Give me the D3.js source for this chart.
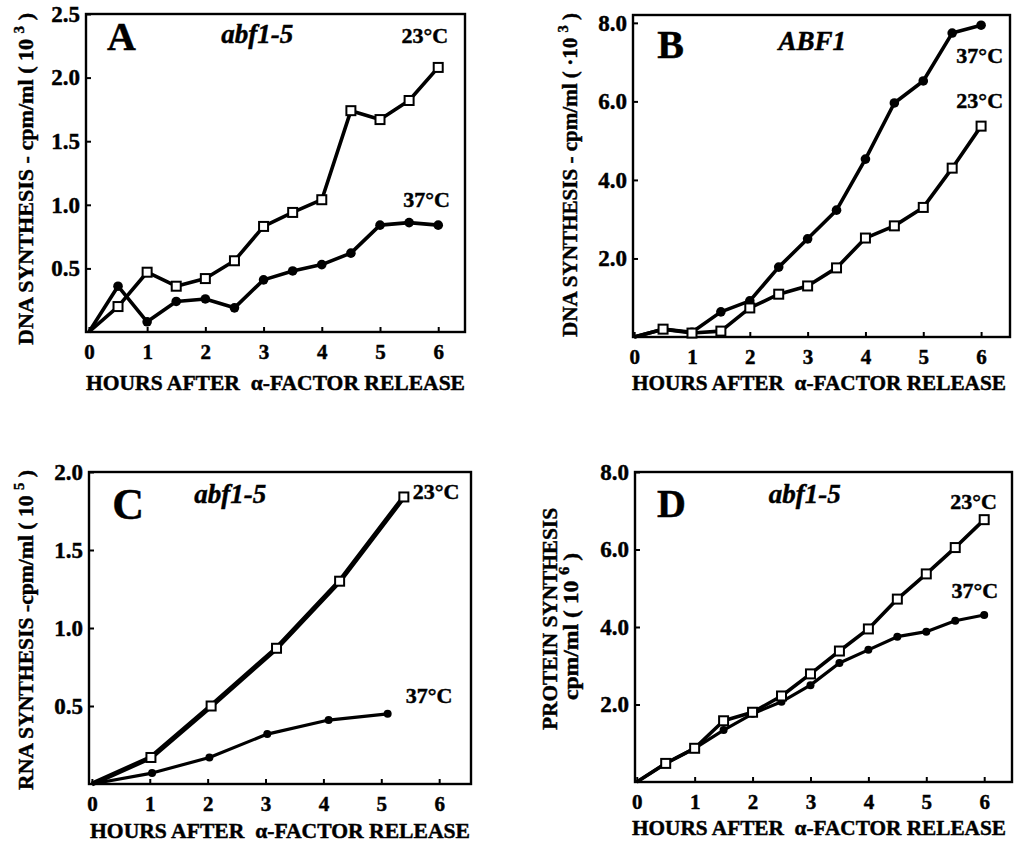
<!DOCTYPE html>
<html lang="en">
<head>
	<meta charset="utf-8">
	<title>DNA, RNA and protein synthesis after alpha-factor release</title>
	<script src="https://d3js.org/d3.v7.min.js"></script>
	<style>
		body { margin: 0; background: #fff; }
		svg text { font-family: "Liberation Serif", "Times New Roman", serif; font-weight: bold; fill: #000; stroke: #000; stroke-width: 0.45px; }
		.tick line { stroke: #000; stroke-width: 2; }
		.domain { display: none; }
	</style>
</head>
<body>
<script>
	// sampling times (hours after alpha-factor release)
	var hours = [0, 0.5, 1, 1.5, 2, 2.5, 3, 3.5, 4, 4.5, 5, 5.5, 6];
	var xTicks = [0, 1, 2, 3, 4, 5, 6];

	// A: DNA synthesis, abf1-5 (x 10^3 cpm/ml)
	var dnaMutant23 = [0, 0.2, 0.47, 0.36, 0.42, 0.56, 0.83, 0.94, 1.04, 1.74, 1.67, 1.82, 2.08];
	var dnaMutant37 = [0, 0.36, 0.08, 0.24, 0.26, 0.19, 0.41, 0.48, 0.53, 0.62, 0.84, 0.86, 0.84];

	// B: DNA synthesis, ABF1 (x 10^3 cpm/ml)
	var dnaWild23 = [0, 0.2, 0.1, 0.15, 0.74, 1.09, 1.3, 1.76, 2.52, 2.83, 3.3, 4.3, 5.37];
	var dnaWild37 = [0, 0.2, 0.12, 0.64, 0.92, 1.78, 2.5, 3.23, 4.53, 5.96, 6.52, 7.74, 7.94];

	// C: RNA synthesis, abf1-5 (x 10^5 cpm/ml)
	var rnaHours23 = [0, 1.02, 2.06, 3.19, 4.28, 5.39];
	var rna23 = [0, 0.17, 0.5, 0.87, 1.3, 1.84];
	var rnaHours37 = [0, 1.04, 2.03, 3.03, 4.09, 5.11];
	var rna37 = [0, 0.07, 0.17, 0.32, 0.41, 0.45];

	// D: protein synthesis, abf1-5 (x 10^6 cpm/ml)
	var prot23 = [0, 0.48, 0.87, 1.58, 1.8, 2.22, 2.79, 3.38, 3.95, 4.72, 5.37, 6.05, 6.77];
	var prot37 = [0, 0.48, 0.87, 1.34, 1.76, 2.07, 2.5, 3.07, 3.41, 3.75, 3.88, 4.16, 4.31];

	var yTicksA = [0.5, 1.0, 1.5, 2.0, 2.5];
	var yTicksB = [2.0, 4.0, 6.0, 8.0];
	var yTicksC = [0.5, 1.0, 1.5, 2.0];
	var yTicksD = [2.0, 4.0, 6.0, 8.0];

	var xTitle = "HOURS AFTER  \u03b1-FACTOR RELEASE";

	function zip(xs, ys) {
		return xs.map(function(x, i) { return [x, ys[i]]; });
	}

	var svg = d3.select("body").append("svg")
		.attr("width", 1016)
		.attr("height", 843);

	var panels = [
		{
			frame: { left: 86, right: 465, top: 14, bottom: 332 },
			xDomain: [-0.05, 6.46], yDomain: [0, 2.5], yTicks: yTicksA,
			series: [
				{ pts: zip(hours, dnaMutant23), kind: "square", width: 3.6 },
				{ pts: zip(hours, dnaMutant37), kind: "dot", width: 3.6, r: 4.8 }
			],
			labels: [
				{ text: "A", x: 0.31, y: 2.22, size: 40, anchor: "start" },
				{ text: "abf1-5", x: 2.89, y: 2.27, size: 27, anchor: "middle", italic: true },
				{ text: "23\u00b0C", x: 6.17, y: 2.27, size: 22, anchor: "end" },
				{ text: "37\u00b0C", x: 6.2, y: 0.98, size: 22, anchor: "end" }
			],
			yTitle: [{ parts: ["DNA SYNTHESIS - cpm/ml ( 10 ", "3", " )"], x: 33, y0: 345, y1: 13 }],
			xTitle: { x0: 86, x1: 465, y: 390 }
		},
		{
			frame: { left: 633, right: 1010, top: 15, bottom: 337 },
			xDomain: [-0.02, 6.5], yDomain: [0, 8.2], yTicks: yTicksB,
			series: [
				{ pts: zip(hours, dnaWild23), kind: "square", width: 3.6 },
				{ pts: zip(hours, dnaWild37), kind: "dot", width: 3.6, r: 4.8 }
			],
			labels: [
				{ text: "B", x: 0.4, y: 7.1, size: 40, anchor: "start" },
				{ text: "ABF1", x: 3.08, y: 7.31, size: 27, anchor: "middle", italic: true },
				{ text: "37\u00b0C", x: 6.38, y: 6.98, size: 22, anchor: "end" },
				{ text: "23\u00b0C", x: 6.38, y: 5.83, size: 22, anchor: "end" }
			],
			yTitle: [{ parts: ["DNA SYNTHESIS - cpm/ml ( \u00b710 ", "3", " )"], x: 577, y0: 337, y1: 13 }],
			xTitle: { x0: 632, x1: 1006, y: 390 }
		},
		{
			frame: { left: 89, right: 471, top: 472, bottom: 784 },
			xDomain: [-0.05, 6.55], yDomain: [0, 2.0], yTicks: yTicksC,
			series: [
				{ pts: zip(rnaHours23, rna23), kind: "square", width: 5 },
				{ pts: zip(rnaHours37, rna37), kind: "dot", width: 3.2, r: 4 }
			],
			labels: [
				{ text: "C", x: 0.35, y: 1.70, size: 44, anchor: "start" },
				{ text: "abf1-5", x: 2.39, y: 1.8, size: 27, anchor: "middle", italic: true },
				{ text: "23\u00b0C", x: 6.35, y: 1.83, size: 22, anchor: "end" },
				{ text: "37\u00b0C", x: 6.23, y: 0.52, size: 22, anchor: "end" }
			],
			yTitle: [{ parts: ["RNA SYNTHESIS -cpm/ml ( 10 ", "5", " )"], x: 33, y0: 790, y1: 470 }],
			xTitle: { x0: 90, x1: 470, y: 838 }
		},
		{
			frame: { left: 635, right: 1012, top: 472, bottom: 782 },
			xDomain: [-0.03, 6.48], yDomain: [0, 8.0], yTicks: yTicksD,
			series: [
				{ pts: zip(hours, prot23), kind: "square", width: 3.6 },
				{ pts: zip(hours, prot37), kind: "dot", width: 3.2, r: 4 }
			],
			labels: [
				{ text: "D", x: 0.35, y: 6.84, size: 40, anchor: "start" },
				{ text: "abf1-5", x: 2.9, y: 7.2, size: 27, anchor: "middle", italic: true },
				{ text: "23\u00b0C", x: 6.22, y: 7.05, size: 22, anchor: "end" },
				{ text: "37\u00b0C", x: 6.24, y: 4.75, size: 22, anchor: "end" }
			],
			yTitle: [
				{ parts: ["PROTEIN SYNTHESIS", "", ""], x: 557, y0: 730, y1: 508 },
				{ parts: ["cpm/ml ( 10 ", "6", " )"], x: 578, y0: 700, y1: 553 }
			],
			xTitle: { x0: 632, x1: 1006, y: 835 }
		}
	];

	panels.forEach(function(p) {
		var f = p.frame;
		var x = d3.scaleLinear().domain(p.xDomain).range([f.left, f.right]);
		var y = d3.scaleLinear().domain(p.yDomain).range([f.bottom, f.top]);
		var g = svg.append("g");

		// axes, ticks pointing inward
		g.append("g")
			.attr("transform", "translate(0," + f.bottom + ")")
			.call(d3.axisBottom(x).tickValues(xTicks).tickSize(-5).tickPadding(12).tickFormat(d3.format("d")))
			.selectAll("text").style("font-size", "21px").style("font-family", "Liberation Serif, serif").style("font-weight", "bold");

		g.append("g")
			.attr("transform", "translate(" + f.left + ",0)")
			.call(d3.axisLeft(y).tickValues(p.yTicks).tickSize(-5).tickPadding(6).tickFormat(d3.format(".1f")))
			.selectAll("text").style("font-size", "23px").style("font-family", "Liberation Serif, serif").style("font-weight", "bold");

		// frame
		g.append("rect")
			.attr("x", f.left).attr("y", f.top)
			.attr("width", f.right - f.left).attr("height", f.bottom - f.top)
			.attr("fill", "none").attr("stroke", "#000").attr("stroke-width", 2.4);

		var line = d3.line().x(function(d) { return x(d[0]); }).y(function(d) { return y(d[1]); });

		// lines first, then markers (dots below squares)
		p.series.slice().reverse().forEach(function(s) {
			g.append("path")
				.attr("d", line(s.pts))
				.attr("fill", "none")
				.attr("stroke", "#000")
				.attr("stroke-width", s.width)
				.attr("stroke-linejoin", "round");
		});
		p.series.slice().reverse().forEach(function(s) {
			var pts = s.pts.filter(function(d) { return d[0] > 0; });
			if (s.kind === "dot") {
				g.selectAll(null).data(pts).enter().append("circle")
					.attr("cx", function(d) { return x(d[0]); })
					.attr("cy", function(d) { return y(d[1]); })
					.attr("r", s.r)
					.attr("fill", "#000");
			} else {
				g.selectAll(null).data(pts).enter().append("rect")
					.attr("x", function(d) { return x(d[0]) - 4.5; })
					.attr("y", function(d) { return y(d[1]) - 4.5; })
					.attr("width", 9).attr("height", 9)
					.attr("fill", "#fff")
					.attr("stroke", "#000")
					.attr("stroke-width", 2);
			}
		});

		// panel annotations
		p.labels.forEach(function(l) {
			g.append("text")
				.attr("x", x(l.x)).attr("y", y(l.y))
				.attr("text-anchor", l.anchor)
				.style("font-size", l.size + "px")
				.style("font-style", l.italic ? "italic" : "normal")
				.text(l.text);
		});

		// y axis title (rotated)
		p.yTitle.forEach(function(t) {
			var txt = g.append("text")
				.attr("transform", "translate(" + t.x + "," + t.y0 + ") rotate(-90)")
				.attr("text-anchor", "start")
				.attr("textLength", t.y0 - t.y1)
				.attr("lengthAdjust", "spacingAndGlyphs")
				.style("font-size", "22px")
				.style("white-space", "pre");
			txt.append("tspan").text(t.parts[0]);
			if (t.parts[1]) {
				txt.append("tspan").attr("dy", -9).style("font-size", "15px").text(t.parts[1]);
				txt.append("tspan").attr("dy", 9).text(t.parts[2]);
			}
		});

		// x axis title
		g.append("text")
			.attr("x", p.xTitle.x0).attr("y", p.xTitle.y)
			.attr("textLength", p.xTitle.x1 - p.xTitle.x0)
			.attr("lengthAdjust", "spacingAndGlyphs")
			.style("font-size", "21px")
			.style("white-space", "pre")
			.text(xTitle);
	});
</script>
</body>
</html>
